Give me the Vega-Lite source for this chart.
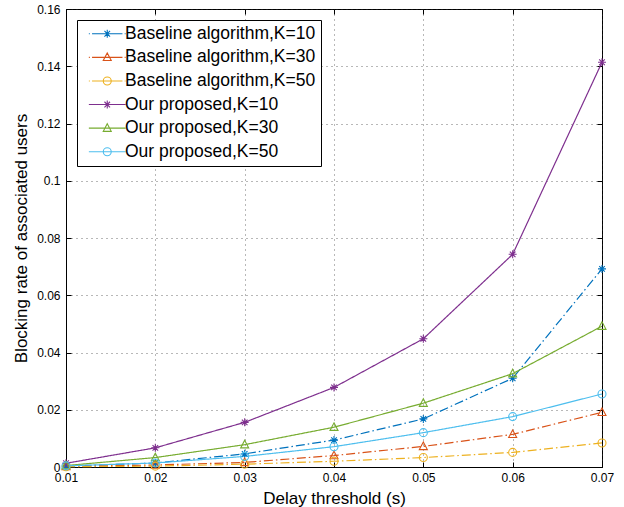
{
  "$schema": "https://vega.github.io/schema/vega-lite/v6.json",
  "width": 536,
  "height": 458,
  "autosize": "none",
  "padding": {"left": 66, "top": 9, "right": 22, "bottom": 40},
  "background": "white",
  "config": {
    "font": "Liberation Sans",
    "view": {"stroke": "black", "strokeWidth": 1},
    "axis": {
      "grid": true,
      "gridColor": "#333333",
      "gridDash": [1, 4],
      "gridOpacity": 0.7,
      "domainColor": "black",
      "tickColor": "black",
      "tickSize": -5,
      "labelFlush": false,
      "labelFont": "Liberation Sans",
      "labelFontSize": 12,
      "labelColor": "black",
      "titleFont": "Liberation Sans",
      "titleFontSize": 17,
      "titleFontWeight": "normal",
      "titleColor": "black"
    }
  },
  "resolve": {"axis": {"x": "independent", "y": "independent"}},
  "data": {
    "values": [
      {"series": "Baseline algorithm,K=10", "algorithm": "Baseline", "K": 10, "delay": 0.01, "rate": 0.0003},
      {"series": "Baseline algorithm,K=10", "algorithm": "Baseline", "K": 10, "delay": 0.02, "rate": 0.0014},
      {"series": "Baseline algorithm,K=10", "algorithm": "Baseline", "K": 10, "delay": 0.03, "rate": 0.0046},
      {"series": "Baseline algorithm,K=10", "algorithm": "Baseline", "K": 10, "delay": 0.04, "rate": 0.0094},
      {"series": "Baseline algorithm,K=10", "algorithm": "Baseline", "K": 10, "delay": 0.05, "rate": 0.0168},
      {"series": "Baseline algorithm,K=10", "algorithm": "Baseline", "K": 10, "delay": 0.06, "rate": 0.031},
      {"series": "Baseline algorithm,K=10", "algorithm": "Baseline", "K": 10, "delay": 0.07, "rate": 0.0692},
      {"series": "Baseline algorithm,K=30", "algorithm": "Baseline", "K": 30, "delay": 0.01, "rate": 0.0002},
      {"series": "Baseline algorithm,K=30", "algorithm": "Baseline", "K": 30, "delay": 0.02, "rate": 0.0007},
      {"series": "Baseline algorithm,K=30", "algorithm": "Baseline", "K": 30, "delay": 0.03, "rate": 0.0016},
      {"series": "Baseline algorithm,K=30", "algorithm": "Baseline", "K": 30, "delay": 0.04, "rate": 0.004},
      {"series": "Baseline algorithm,K=30", "algorithm": "Baseline", "K": 30, "delay": 0.05, "rate": 0.0072},
      {"series": "Baseline algorithm,K=30", "algorithm": "Baseline", "K": 30, "delay": 0.06, "rate": 0.0114},
      {"series": "Baseline algorithm,K=30", "algorithm": "Baseline", "K": 30, "delay": 0.07, "rate": 0.0191},
      {"series": "Baseline algorithm,K=50", "algorithm": "Baseline", "K": 50, "delay": 0.01, "rate": 0.0001},
      {"series": "Baseline algorithm,K=50", "algorithm": "Baseline", "K": 50, "delay": 0.02, "rate": 0.0003},
      {"series": "Baseline algorithm,K=50", "algorithm": "Baseline", "K": 50, "delay": 0.03, "rate": 0.001},
      {"series": "Baseline algorithm,K=50", "algorithm": "Baseline", "K": 50, "delay": 0.04, "rate": 0.002},
      {"series": "Baseline algorithm,K=50", "algorithm": "Baseline", "K": 50, "delay": 0.05, "rate": 0.0033},
      {"series": "Baseline algorithm,K=50", "algorithm": "Baseline", "K": 50, "delay": 0.06, "rate": 0.0051},
      {"series": "Baseline algorithm,K=50", "algorithm": "Baseline", "K": 50, "delay": 0.07, "rate": 0.0084},
      {"series": "Our proposed,K=10", "algorithm": "Proposed", "K": 10, "delay": 0.01, "rate": 0.0013},
      {"series": "Our proposed,K=10", "algorithm": "Proposed", "K": 10, "delay": 0.02, "rate": 0.0067},
      {"series": "Our proposed,K=10", "algorithm": "Proposed", "K": 10, "delay": 0.03, "rate": 0.0156},
      {"series": "Our proposed,K=10", "algorithm": "Proposed", "K": 10, "delay": 0.04, "rate": 0.0278},
      {"series": "Our proposed,K=10", "algorithm": "Proposed", "K": 10, "delay": 0.05, "rate": 0.0448},
      {"series": "Our proposed,K=10", "algorithm": "Proposed", "K": 10, "delay": 0.06, "rate": 0.0743},
      {"series": "Our proposed,K=10", "algorithm": "Proposed", "K": 10, "delay": 0.07, "rate": 0.1414},
      {"series": "Our proposed,K=30", "algorithm": "Proposed", "K": 30, "delay": 0.01, "rate": 0.0005},
      {"series": "Our proposed,K=30", "algorithm": "Proposed", "K": 30, "delay": 0.02, "rate": 0.0033},
      {"series": "Our proposed,K=30", "algorithm": "Proposed", "K": 30, "delay": 0.03, "rate": 0.0078},
      {"series": "Our proposed,K=30", "algorithm": "Proposed", "K": 30, "delay": 0.04, "rate": 0.0139},
      {"series": "Our proposed,K=30", "algorithm": "Proposed", "K": 30, "delay": 0.05, "rate": 0.0223},
      {"series": "Our proposed,K=30", "algorithm": "Proposed", "K": 30, "delay": 0.06, "rate": 0.0326},
      {"series": "Our proposed,K=30", "algorithm": "Proposed", "K": 30, "delay": 0.07, "rate": 0.0492},
      {"series": "Our proposed,K=50", "algorithm": "Proposed", "K": 50, "delay": 0.01, "rate": 0.0004},
      {"series": "Our proposed,K=50", "algorithm": "Proposed", "K": 50, "delay": 0.02, "rate": 0.0014},
      {"series": "Our proposed,K=50", "algorithm": "Proposed", "K": 50, "delay": 0.03, "rate": 0.0037},
      {"series": "Our proposed,K=50", "algorithm": "Proposed", "K": 50, "delay": 0.04, "rate": 0.0071},
      {"series": "Our proposed,K=50", "algorithm": "Proposed", "K": 50, "delay": 0.05, "rate": 0.012},
      {"series": "Our proposed,K=50", "algorithm": "Proposed", "K": 50, "delay": 0.06, "rate": 0.0176},
      {"series": "Our proposed,K=50", "algorithm": "Proposed", "K": 50, "delay": 0.07, "rate": 0.0255}
    ]
  },
  "encoding": {
    "color": {
      "field": "series",
      "type": "nominal",
      "scale": {
        "domain": ["Baseline algorithm,K=10", "Baseline algorithm,K=30", "Baseline algorithm,K=50", "Our proposed,K=10", "Our proposed,K=30", "Our proposed,K=50"],
        "range": ["#0072BD", "#D95319", "#EDB120", "#7E2F8E", "#77AC30", "#4DBEEE"]
      },
      "legend": {
        "orient": "none",
        "legendX": 11,
        "legendY": 11,
        "title": null,
        "strokeColor": "black",
        "fillColor": "white",
        "padding": 5,
        "labelFont": "Liberation Sans",
        "labelFontSize": 17.5,
        "labelColor": "black",
        "labelLimit": 400,
        "symbolSize": 64,
        "symbolStrokeWidth": 1.1,
        "symbolFillColor": "transparent",
        "symbolOpacity": 1,
        "symbolOffset": 16.5,
        "labelOffset": 9,
        "rowPadding": 4.6,
        "encode": {
          "symbols": {
            "update": {
              "shape": {"signal": "datum.value === 'Baseline algorithm,K=10' ? 'M-4.6,0L-4.35,0M-3.8,0L3.8,0M4.35,0L4.6,0M-1,0L1,0M0,-1L0,1M-0.7,-0.7L0.7,0.7M-0.7,0.7L0.7,-0.7' : datum.value === 'Baseline algorithm,K=30' ? 'M-4.6,0L-4.35,0M-3.8,0L3.8,0M4.35,0L4.6,0M0,-1.1L1,0.8L-1,0.8Z' : datum.value === 'Baseline algorithm,K=50' ? 'M-4.6,0L-4.35,0M-3.8,0L3.8,0M4.35,0L4.6,0M1,0A1,1,0,1,1,-1,0A1,1,0,1,1,1,0Z' : datum.value === 'Our proposed,K=10' ? 'M-4.6,0L4.6,0M-1,0L1,0M0,-1L0,1M-0.7,-0.7L0.7,0.7M-0.7,0.7L0.7,-0.7' : datum.value === 'Our proposed,K=30' ? 'M-4.6,0L4.6,0M0,-1.1L1,0.8L-1,0.8Z' : 'M-4.6,0L4.6,0M1,0A1,1,0,1,1,-1,0A1,1,0,1,1,1,0Z'"},
              "fill": {"value": "transparent"},
              "strokeWidth": {"value": 1.1},
              "opacity": {"value": 1}
            }
          }
        }
      }
    }
  },
  "layer": [
    {
      "mark": {"type": "line", "strokeWidth": 1.2},
      "encoding": {
        "x": {
          "field": "delay",
          "type": "quantitative",
          "scale": {"domain": [0.01, 0.07], "nice": false, "zero": false},
          "axis": {
            "orient": "bottom",
            "values": [0.01, 0.02, 0.03, 0.04, 0.05, 0.06, 0.07],
            "format": "~g",
            "labelPadding": 10.5,
            "title": "Delay threshold (s)",
            "titleX": 268,
            "titleY": 36,
            "titleBaseline": "alphabetic",
            "titleAnchor": "middle",
            "titleAlign": "center"
          }
        },
        "y": {
          "field": "rate",
          "type": "quantitative",
          "scale": {"domain": [0, 0.16], "nice": false, "zero": true},
          "axis": {
            "orient": "left",
            "values": [0, 0.02, 0.04, 0.06, 0.08, 0.1, 0.12, 0.14, 0.16],
            "format": "~g",
            "labelPadding": 11,
            "title": "Blocking rate of associated users",
            "titleX": -40,
            "titleY": 229,
            "titleAngle": -90,
            "titleBaseline": "alphabetic",
            "titleAlign": "center"
          }
        },
        "strokeDash": {
          "field": "algorithm",
          "type": "nominal",
          "scale": {
            "domain": ["Baseline", "Proposed"],
            "range": [[9, 3, 1.5, 3], [1, 0]]
          },
          "legend": null
        }
      }
    },
    {
      "mark": {"type": "point", "filled": false, "size": 64, "strokeWidth": 1.1, "opacity": 1},
      "encoding": {
        "x": {
          "field": "delay",
          "type": "quantitative",
          "axis": {
            "orient": "top",
            "values": [0.01, 0.02, 0.03, 0.04, 0.05, 0.06, 0.07],
            "labels": false,
            "grid": false,
            "domain": false,
            "title": null
          }
        },
        "y": {
          "field": "rate",
          "type": "quantitative",
          "axis": {
            "orient": "right",
            "values": [0, 0.02, 0.04, 0.06, 0.08, 0.1, 0.12, 0.14, 0.16],
            "labels": false,
            "grid": false,
            "domain": false,
            "title": null
          }
        },
        "shape": {
          "field": "K",
          "type": "nominal",
          "scale": {
            "domain": [10, 30, 50],
            "range": ["M-1,0L1,0M0,-1L0,1M-0.7,-0.7L0.7,0.7M-0.7,0.7L0.7,-0.7", "M0,-1.1L1,0.8L-1,0.8Z", "circle"]
          },
          "legend": null
        }
      }
    }
  ]
}
